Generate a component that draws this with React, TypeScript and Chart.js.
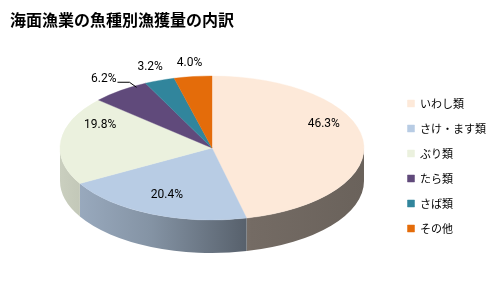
import { useEffect, useRef } from "react";
import { Chart, registerables } from "chart.js";

Chart.register(...registerables);

const TITLE = "海面漁業の魚種別漁獲量の内訳";
const CATEGORIES = ["いわし類", "さけ・ます類", "ぶり類", "たら類", "さば類", "その他"];
const SHARES = [46.3, 20.4, 19.8, 6.2, 3.2, 4.0];
const COLORS = ["#FDE9D9", "#B8CCE4", "#EBF1DE", "#604A7B", "#31859C", "#E46C0A"];
const LEADER = [false, false, false, true, false, false];

const PIE_CX = 212;
const PIE_CY = 148;
const RADIUS = 152;
const SY = 72 / 152;
const DEPTH = 33;

function hexToRgb(h: string): number[] {
  const v = parseInt(h.slice(1), 16);
  return [(v >> 16) & 255, (v >> 8) & 255, v & 255];
}
function shade(h: string, f: number): string {
  const [r, g, b] = hexToRgb(h);
  return `rgb(${Math.round(r * f)},${Math.round(g * f)},${Math.round(b * f)})`;
}

const pie3d = {
  id: "pie3d",
  beforeDatasetDraw(chart: any, args: any) {
    const ctx = chart.ctx;
    const arcs = args.meta.data;
    if (!arcs.length) return;
    const el0 = arcs[0];
    const r = el0.outerRadius;
    const ry = r * SY;
    arcs.forEach((el: any, i: number) => {
      const s = Math.max(el.startAngle, 0);
      const e = Math.min(el.endAngle, Math.PI);
      if (e <= s) return;
      const grad = ctx.createLinearGradient(PIE_CX - r, 0, PIE_CX + r, 0);
      grad.addColorStop(0, shade(COLORS[i], 0.86));
      grad.addColorStop(0.3, shade(COLORS[i], 0.72));
      grad.addColorStop(0.63, shade(COLORS[i], 0.46));
      grad.addColorStop(1, shade(COLORS[i], 0.42));
      ctx.beginPath();
      ctx.ellipse(PIE_CX, PIE_CY, r, ry, 0, s, e);
      ctx.ellipse(PIE_CX, PIE_CY + DEPTH, r, ry, 0, e, s, true);
      ctx.closePath();
      ctx.fillStyle = grad;
      ctx.fill();
    });
    ctx.save();
    ctx.translate(PIE_CX, PIE_CY);
    ctx.scale(1, SY);
    ctx.translate(-el0.x, -el0.y);
  },
  afterDatasetDraw(chart: any) {
    chart.ctx.restore();
  },
  afterDatasetsDraw(chart: any) {
    const ctx = chart.ctx;
    const meta = chart.getDatasetMeta(0);
    ctx.save();
    ctx.font = "12px Roboto, 'Noto Sans', sans-serif";
    ctx.fillStyle = "#000";
    ctx.textAlign = "center";
    ctx.textBaseline = "middle";
    meta.data.forEach((el: any, i: number) => {
      const mid = (el.startAngle + el.endAngle) / 2;
      const r = el.outerRadius;
      const outside = SHARES[i] < 7;
      const k = outside ? 1.18 : 0.74;
      const x = PIE_CX + Math.cos(mid) * r * k;
      const shift = outside ? -1 : -16 + 16 * Math.sin(mid);
      const y = PIE_CY + Math.sin(mid) * r * SY * k + shift;
      const txt = SHARES[i].toFixed(1) + "%";
      ctx.fillText(txt, x, y);
      if (LEADER[i]) {
        const w = ctx.measureText(txt).width;
        const x0 = x + w / 2 + 1;
        ctx.beginPath();
        ctx.moveTo(x0, y + 3);
        ctx.lineTo(x0 + 12, y + 3);
        ctx.lineTo(x0 + 19, y + 8);
        ctx.strokeStyle = "#000";
        ctx.lineWidth = 1;
        ctx.stroke();
      }
    });
    ctx.restore();
  },
};

export default function App() {
  const ref = useRef<HTMLCanvasElement | null>(null);
  useEffect(() => {
    document.body.style.margin = "0";
    const canvas = ref.current;
    if (!canvas) return;
    const chart = new Chart(canvas, {
      type: "pie",
      data: {
        labels: CATEGORIES,
        datasets: [
          {
            data: SHARES,
            backgroundColor: COLORS,
            borderColor: COLORS,
            borderWidth: 0.5,
            radius: RADIUS,
            clip: false,
          } as any,
        ],
      },
      options: {
        responsive: false,
        animation: false,
        events: [],
        layout: { padding: { left: 10, right: 1, top: 0, bottom: 50 } },
        plugins: {
          title: {
            display: true,
            text: TITLE,
            align: "start",
            color: "#000",
            font: { size: 16, weight: "bold", family: "'Noto Sans CJK JP'" },
            padding: { top: 10, bottom: 10 },
          },
          legend: {
            position: "right",
            align: "end",
            labels: {
              boxWidth: 7,
              boxHeight: 7,
              padding: 14,
              color: "#000",
              font: { size: 11, family: "'Noto Sans CJK JP'" },
            },
          },
          tooltip: { enabled: false },
        },
      } as any,
      plugins: [pie3d],
    });
    return () => chart.destroy();
  }, []);
  return (
    <div style={{ position: "absolute", left: 0, top: 0, width: 497, height: 298 }}>
      <canvas ref={ref} width={497} height={298} />
    </div>
  );
}
